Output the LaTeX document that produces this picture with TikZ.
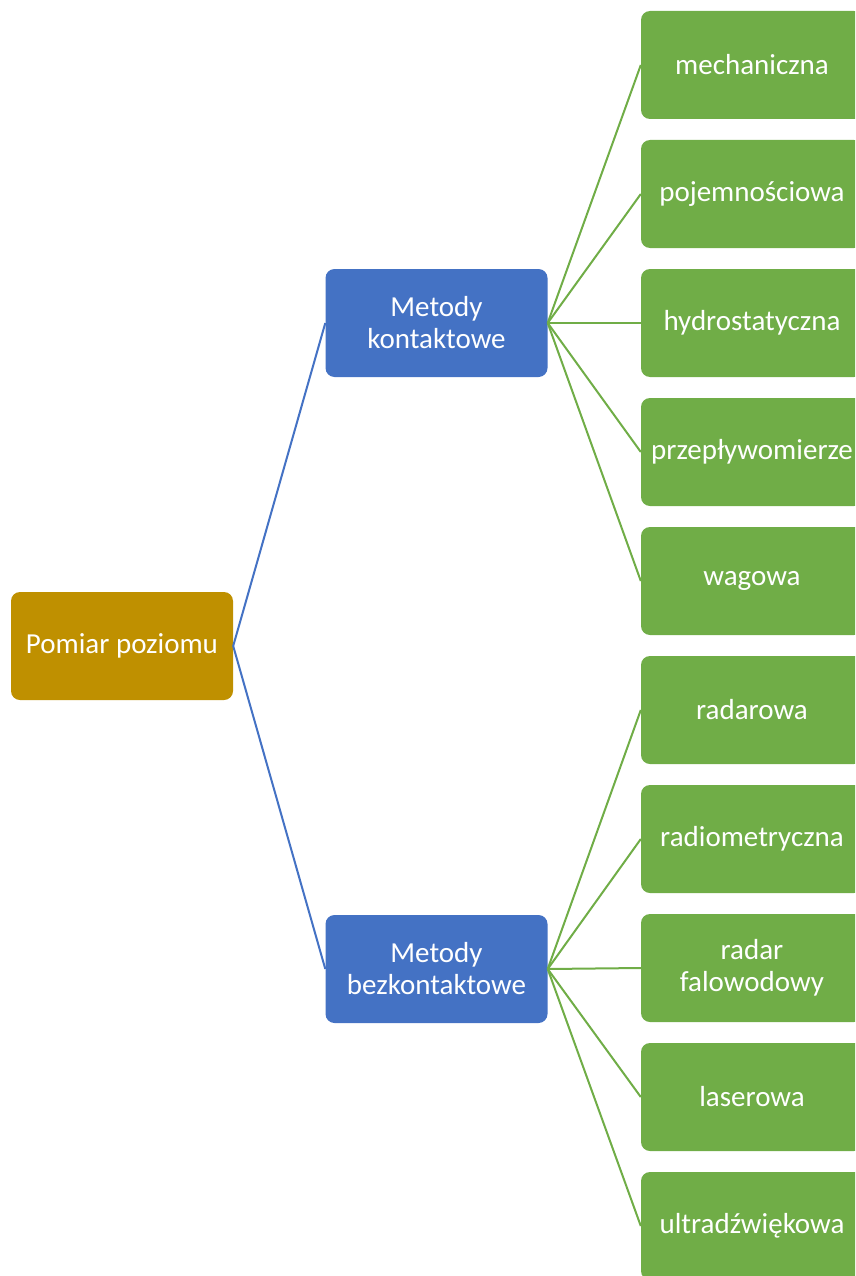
\documentclass[tikz,border=0pt]{standalone}
\usepackage{fontspec}
\setmainfont{Carlito}
\usepackage{tikz}
\usetikzlibrary{calc}
\definecolor{rootcolor}{HTML}{BF9000}
\definecolor{midcolor}{HTML}{4472C4}
\definecolor{leafcolor}{HTML}{70AD47}
\newcommand{\boxw}{222pt}
\newcommand{\boxh}{108pt}
\tikzset{
  box/.style={rounded corners=9pt, minimum width=\boxw, minimum height=\boxh,
    text=white, align=center, inner sep=2pt, font=\fontsize{29}{32}\selectfont},
  rootbox/.style={box, fill=rootcolor},
  midbox/.style={box, fill=midcolor},
  leafbox/.style={box, fill=leafcolor},
  midline/.style={midcolor, line width=2pt},
  leafline/.style={leafcolor, line width=2pt}
}

\begin{document}
\begin{tikzpicture}[x=1pt, y=-1pt]
\useasboundingbox (0,0) rectangle (855,1276);
\clip (0,0) rectangle (855,1276);
\node[rootbox] (root) at (122, 646) {Pomiar poziomu};
\node[midbox] (k) at (436.5, 323) {Metody\\kontaktowe};
\node[midbox] (b) at (436.5, 969) {Metody\\bezkontaktowe};
%kontaktowe
\node[leafbox] (k1) at (752, 65) {mechaniczna};
\node[leafbox] (k2) at (752, 194) {pojemnościowa};
\node[leafbox] (k3) at (752, 323) {hydrostatyczna};
\node[leafbox] (k4) at (752, 452) {przepływomierze};
\node[leafbox] (k5) at (752, 581) {wagowa};
%bezkontaktowe
\node[leafbox] (b1) at (752, 710) {radarowa};
\node[leafbox] (b2) at (752, 839) {radiometryczna};
\node[leafbox] (b3) at (752, 968) {radar\\falowodowy};
\node[leafbox] (b4) at (752, 1097) {laserowa};
\node[leafbox] (b5) at (752, 1226) {ultradźwiękowa};
%connectors
\draw[midline] (root.east) -- (k.west);
\draw[midline] (root.east) -- (b.west);
\draw[leafline] (k.east) -- (k1.west);
\draw[leafline] (k.east) -- (k2.west);
\draw[leafline] (k.east) -- (k3.west);
\draw[leafline] (k.east) -- (k4.west);
\draw[leafline] (k.east) -- (k5.west);
\draw[leafline] (b.east) -- (b1.west);
\draw[leafline] (b.east) -- (b2.west);
\draw[leafline] (b.east) -- (b3.west);
\draw[leafline] (b.east) -- (b4.west);
\draw[leafline] (b.east) -- (b5.west);
\end{tikzpicture}
\end{document}
